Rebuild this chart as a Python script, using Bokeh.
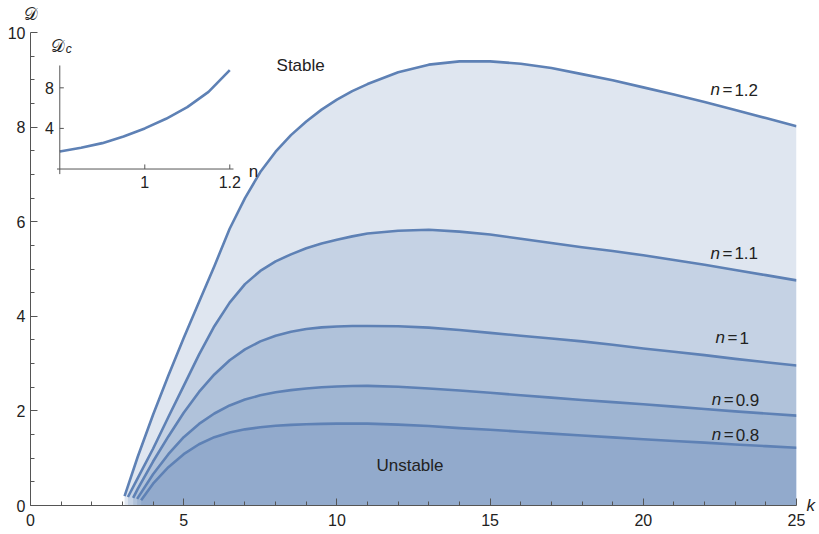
from bokeh.plotting import figure
from bokeh.models import Range1d, FixedTicker, LinearAxis
from bokeh.embed import file_html
from bokeh.resources import INLINE
from bokeh.core.properties import value

# ---- data ----
k_n12 = [3.07, 3.5, 4, 4.5, 5, 5.5, 6, 6.5, 7, 7.5, 8, 8.5, 9, 9.5, 10, 10.5, 11, 12, 13, 14, 15, 16, 17, 18, 19, 20, 21, 22, 23, 24, 25]
D_n12 = [0.2, 1.03, 1.92, 2.75, 3.54, 4.3, 5.06, 5.85, 6.5, 7.05, 7.48, 7.83, 8.12, 8.37, 8.58, 8.76, 8.91, 9.16, 9.32, 9.39, 9.39, 9.34, 9.25, 9.12, 8.99, 8.84, 8.69, 8.53, 8.36, 8.19, 8.02]

k_n11 = [3.18, 3.5, 4, 4.5, 5, 5.5, 6, 6.5, 7, 7.5, 8, 8.5, 9, 9.5, 10, 10.5, 11, 12, 13, 14, 15, 16, 17, 18, 19, 20, 21, 22, 23, 24, 25]
D_n11 = [0.18, 0.58, 1.2, 1.87, 2.53, 3.19, 3.79, 4.29, 4.68, 4.96, 5.16, 5.31, 5.44, 5.54, 5.62, 5.69, 5.75, 5.81, 5.83, 5.79, 5.73, 5.64, 5.55, 5.46, 5.38, 5.29, 5.19, 5.09, 4.98, 4.87, 4.76]

k_n10 = [3.35, 3.5, 4, 4.5, 5, 5.5, 6, 6.5, 7, 7.5, 8, 8.5, 9, 9.5, 10, 10.5, 11, 12, 13, 14, 15, 16, 17, 18, 19, 20, 21, 22, 23, 24, 25]
D_n10 = [0.16, 0.35, 0.93, 1.46, 1.96, 2.4, 2.77, 3.07, 3.3, 3.47, 3.59, 3.675, 3.73, 3.765, 3.785, 3.795, 3.795, 3.79, 3.76, 3.71, 3.65, 3.59, 3.53, 3.47, 3.4, 3.32, 3.25, 3.18, 3.1, 3.03, 2.96]

k_n09 = [3.48, 4, 4.5, 5, 5.5, 6, 6.5, 7, 7.5, 8, 8.5, 9, 9.5, 10, 10.5, 11, 12, 13, 14, 15, 16, 17, 18, 19, 20, 21, 22, 23, 24, 25]
D_n09 = [0.14, 0.66, 1.085, 1.445, 1.725, 1.945, 2.115, 2.24, 2.33, 2.395, 2.44, 2.475, 2.5, 2.515, 2.525, 2.53, 2.51, 2.475, 2.43, 2.385, 2.33, 2.28, 2.23, 2.185, 2.14, 2.09, 2.04, 1.99, 1.945, 1.9]

k_n08 = [3.61, 4, 4.5, 5, 5.5, 6, 6.5, 7, 7.5, 8, 8.5, 9, 9.5, 10, 11, 12, 13, 14, 15, 16, 17, 18, 19, 20, 21, 22, 23, 24, 25]
D_n08 = [0.11, 0.46, 0.81, 1.085, 1.295, 1.445, 1.545, 1.61, 1.655, 1.685, 1.705, 1.718, 1.725, 1.73, 1.73, 1.71, 1.68, 1.635, 1.6, 1.56, 1.52, 1.48, 1.44, 1.4, 1.365, 1.33, 1.29, 1.255, 1.22]

curve_labels = ["1.2", "1.1", "1", "0.9", "0.8"]

# inset: critical D versus n
n_inset = [0.8, 0.85, 0.9, 0.95, 1.0, 1.05, 1.1, 1.15, 1.2]
Dc_inset = [1.72, 2.1, 2.55, 3.2, 4.0, 4.95, 6.1, 7.6, 9.75]

x_major = [0, 5, 10, 15, 20, 25]
x_minor = [i for i in range(1, 25) if i % 5]
y_major = [0, 2, 4, 6, 8, 10]
y_minor = [0.5 * i for i in range(1, 20) if i % 4]
inset_xticks = [1.0, 1.2]
inset_xlabels = ["1", "1.2"]
inset_yticks = [4, 8]
inset_ylabels = ["4", "8"]

# ---- styling ----
BLUE = "#5e81b5"
AXC = "#555555"
TXT = "#222222"
FONT = "Liberation Sans"

p = figure(width=819, height=534, x_range=Range1d(0, 25), y_range=Range1d(0, 10),
           output_backend="svg", toolbar_location=None,
           min_border_left=30, min_border_right=23, min_border_top=32, min_border_bottom=29)
p.grid.visible = False
p.outline_line_color = None
p.background_fill_color = "white"

# inset coordinate system mapped onto the same frame
p.extra_x_ranges = {"inx": Range1d(0.7311, 2.5334)}
p.extra_y_ranges = {"iny": Range1d(-33.15, 13.45)}

for ax in (p.xaxis[0], p.yaxis[0]):
    ax.axis_line_color = AXC
    ax.axis_line_width = 1
    ax.major_tick_line_color = AXC
    ax.minor_tick_line_color = AXC
    ax.major_tick_in = 7
    ax.major_tick_out = 0
    ax.minor_tick_in = 4
    ax.minor_tick_out = 0
    ax.major_label_text_font = FONT
    ax.major_label_text_font_size = "16px"
    ax.major_label_text_color = TXT
p.xaxis.major_label_standoff = 8
p.yaxis.major_label_standoff = 5

p.xaxis.ticker = FixedTicker(ticks=x_major, minor_ticks=x_minor)
p.yaxis.ticker = FixedTicker(ticks=y_major, minor_ticks=y_minor)
p.xaxis.bounds = (0, 25)
p.yaxis.bounds = (0, 10)

# axis names: a bare axis on top carrying "𝒟" above the y axis, one on the right carrying "k"
top_ax = LinearAxis(ticker=FixedTicker(ticks=[0]), major_label_overrides={0: "𝒟"},
                    axis_line_color=None, major_tick_line_color=None, minor_tick_line_color=None,
                    major_tick_in=0, major_tick_out=0, major_label_standoff=9,
                    major_label_text_font="DejaVu Sans", major_label_text_font_size="17px",
                    major_label_text_color=TXT)
p.add_layout(top_ax, "above")
right_ax = LinearAxis(ticker=FixedTicker(ticks=[0]), major_label_overrides={0: "k"},
                      axis_line_color=None, major_tick_line_color=None, minor_tick_line_color=None,
                      major_tick_in=0, major_tick_out=0, major_label_standoff=10,
                      major_label_text_font=FONT, major_label_text_font_style="italic",
                      major_label_text_font_size="17px", major_label_text_color=TXT)
p.add_layout(right_ax, "right")

curves = [(k_n12, D_n12), (k_n11, D_n11), (k_n10, D_n10), (k_n09, D_n09), (k_n08, D_n08)]
for ks, ds in curves:
    p.varea(x=ks, y1=[0] * len(ks), y2=ds, fill_color=BLUE, fill_alpha=0.2)
for ks, ds in curves:
    p.line(ks, ds, line_color=BLUE, line_width=2.6, line_join="round")

# curve labels  "n = value"
lab_x = [22.19, 22.19, 22.36, 22.23, 22.23]
lab_y = [8.79, 5.33, 3.55, 2.24, 1.50]
p.text(x=lab_x, y=lab_y, text=["n"] * 5, text_font=value(FONT), text_font_style="italic",
       text_font_size="17px", text_color=TXT, text_align="left", text_baseline="middle")
p.text(x=lab_x, y=lab_y, text=["="] * 5, text_font=value(FONT),
       text_font_size="17px", text_color=TXT, text_align="left", text_baseline="middle", x_offset=12)
p.text(x=lab_x, y=lab_y, text=curve_labels, text_font=value(FONT),
       text_font_size="17px", text_color=TXT, text_align="left", text_baseline="middle", x_offset=24)

p.text(x=[8.03], y=[9.31], text=["Stable"], text_font=value(FONT), text_font_size="17px",
       text_color=TXT, text_align="left", text_baseline="middle")
p.text(x=[11.29], y=[0.85], text=["Unstable"], text_font=value(FONT), text_font_size="17px",
       text_color=TXT, text_align="left", text_baseline="middle")

# inset curve and axes
p.line(n_inset, Dc_inset, x_range_name="inx", y_range_name="iny", line_color=BLUE,
       line_width=2.6, line_join="round")
p.segment(x0=[0.7935], y0=[0], x1=[1.2087], y1=[0], x_range_name="inx", y_range_name="iny",
          line_color=AXC, line_width=1)
p.segment(x0=[0.8], y0=[-0.5], x1=[0.8], y1=[10.2], x_range_name="inx", y_range_name="iny",
          line_color=AXC, line_width=1)
p.segment(x0=inset_xticks, y0=[0, 0], x1=inset_xticks, y1=[0.45, 0.45], x_range_name="inx",
          y_range_name="iny", line_color=AXC, line_width=1)
p.segment(x0=[0.8, 0.8], y0=inset_yticks, x1=[0.8095, 0.8095], y1=inset_yticks, x_range_name="inx",
          y_range_name="iny", line_color=AXC, line_width=1)
p.text(x=inset_xticks, y=[0, 0], text=inset_xlabels, x_range_name="inx", y_range_name="iny",
       text_font=value(FONT), text_font_size="16px", text_color=TXT, text_align="center",
       text_baseline="middle", y_offset=13)
p.text(x=[0.8, 0.8], y=inset_yticks, text=inset_ylabels, x_range_name="inx", y_range_name="iny",
       text_font=value(FONT), text_font_size="16px", text_color=TXT, text_align="right",
       text_baseline="middle", x_offset=-6)
p.text(x=[1.2], y=[0], text=["n"], x_range_name="inx", y_range_name="iny",
       text_font=value(FONT), text_font_size="17px", text_color=TXT, text_align="left",
       text_baseline="middle", x_offset=19, y_offset=2)
p.text(x=[0.8], y=[10.2], text=["𝒟"], x_range_name="inx", y_range_name="iny",
       text_font=value("DejaVu Sans"), text_font_size="17px", text_color=TXT, text_align="center",
       text_baseline="middle", x_offset=-2, y_offset=-19)
p.text(x=[0.8], y=[10.2], text=["c"], x_range_name="inx", y_range_name="iny",
       text_font=value(FONT), text_font_style="italic", text_font_size="12px", text_color=TXT,
       text_align="left", text_baseline="middle", x_offset=6, y_offset=-16)

open("out.html", "w").write(file_html(p, INLINE))
